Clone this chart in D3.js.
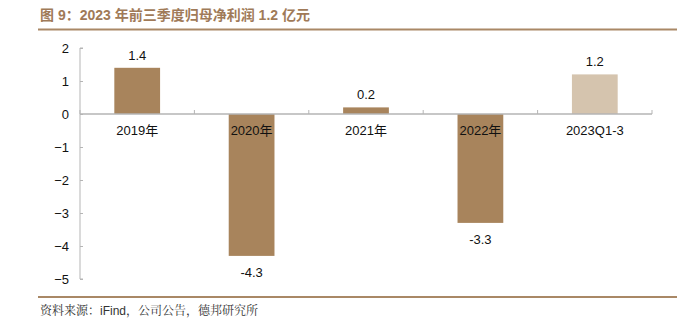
<!DOCTYPE html>
<html><head><meta charset="utf-8">
<script src="https://cdn.jsdelivr.net/npm/d3@7"></script>
<style>body{margin:0;background:#fff;}svg{display:block;}</style>
</head><body>
<script>
const categories = ["2019年","2020年","2021年","2022年","2023Q1-3"];
const values = [1.4, -4.3, 0.2, -3.3, 1.2];
const valueLabels = ["1.4","-4.3","0.2","-3.3","1.2"];
const yTicks = [2,1,0,-1,-2,-3,-4,-5];
const titleText = "图 9：2023 年前三季度归母净利润 1.2 亿元";
const sourceText = "资料来源：iFind，公司公告，德邦研究所";

const W = 677, H = 324;
const svg = d3.select("body").append("svg").attr("width", W).attr("height", H);
const font = "'Liberation Sans', Arial, 'Noto Sans CJK SC', sans-serif";

svg.append("text").attr("x", 40).attr("y", 20).text(titleText)
  .attr("font-family", "'Liberation Sans', Arial, 'Noto Sans CJK SC', sans-serif")
  .attr("font-weight", "bold").attr("font-size", 14).attr("fill", "#a07a58");
svg.append("line").attr("x1", 38).attr("x2", 677).attr("y1", 29.5).attr("y2", 29.5)
  .attr("stroke", "#a98866").attr("stroke-width", 2);
svg.append("line").attr("x1", 38).attr("x2", 677).attr("y1", 297).attr("y2", 297)
  .attr("stroke", "#a98866").attr("stroke-width", 2);
svg.append("text").attr("x", 40).attr("y", 315).text(sourceText)
  .attr("font-family", "'Liberation Sans', 'Noto Serif CJK SC', 'Noto Sans CJK SC', sans-serif")
  .attr("font-size", 12).attr("fill", "#333");

const y = d3.scaleLinear().domain([-5, 2]).range([279, 48]);
const x = d3.scaleBand().domain(categories).range([80, 652]).paddingInner(0.6).paddingOuter(0.3);

// bars
svg.selectAll("rect.bar").data(values).enter().append("rect")
  .attr("x", (d,i) => x(categories[i]))
  .attr("width", x.bandwidth())
  .attr("y", d => y(Math.max(0, d)))
  .attr("height", d => Math.abs(y(d) - y(0)))
  .attr("fill", (d,i) => i === 4 ? "#d5c4ae" : "#a8845c");

// y axis
const yAxis = d3.axisRight(y).tickValues(yTicks).tickSize(3).tickFormat(d3.format("d"));
const ga = svg.append("g").attr("transform", "translate(80,0)").call(yAxis);
ga.select(".domain").attr("stroke", "#b5b5b5").attr("d", `M3,${y(2)}H0V${y(-5)}H3`);
ga.selectAll(".tick line").attr("stroke", "#b5b5b5");
ga.selectAll(".tick text").attr("x", -11).attr("text-anchor", "end")
  .attr("font-family", font).attr("font-size", 13).attr("fill", "#111");

// x axis line with boundary ticks
const step = x.step();
const boundaries = d3.range(categories.length + 1).map(i => 80 + i * step);
svg.append("line").attr("x1", 80).attr("x2", 652).attr("y1", y(0)).attr("y2", y(0))
  .attr("stroke", "#b5b5b5").attr("stroke-width", 1.5);
svg.selectAll("line.bt").data(boundaries).enter().append("line")
  .attr("x1", d => d).attr("x2", d => d).attr("y1", y(0)).attr("y2", y(0) - 4)
  .attr("stroke", "#b5b5b5");

// category labels
svg.selectAll("text.cat").data(categories).enter().append("text")
  .attr("x", d => x(d) + x.bandwidth() / 2).attr("y", y(0) + 21)
  .attr("text-anchor", "middle").text(d => d)
  .attr("font-family", font).attr("font-size", 13).attr("fill", "#111");

// value labels
svg.selectAll("text.val").data(values).enter().append("text")
  .attr("x", (d,i) => x(categories[i]) + x.bandwidth() / 2)
  .attr("y", d => d >= 0 ? y(d) - 8 : y(d) + 21)
  .attr("text-anchor", "middle").text((d,i) => valueLabels[i])
  .attr("font-family", font).attr("font-size", 13).attr("fill", "#111");
</script>
</body></html>
